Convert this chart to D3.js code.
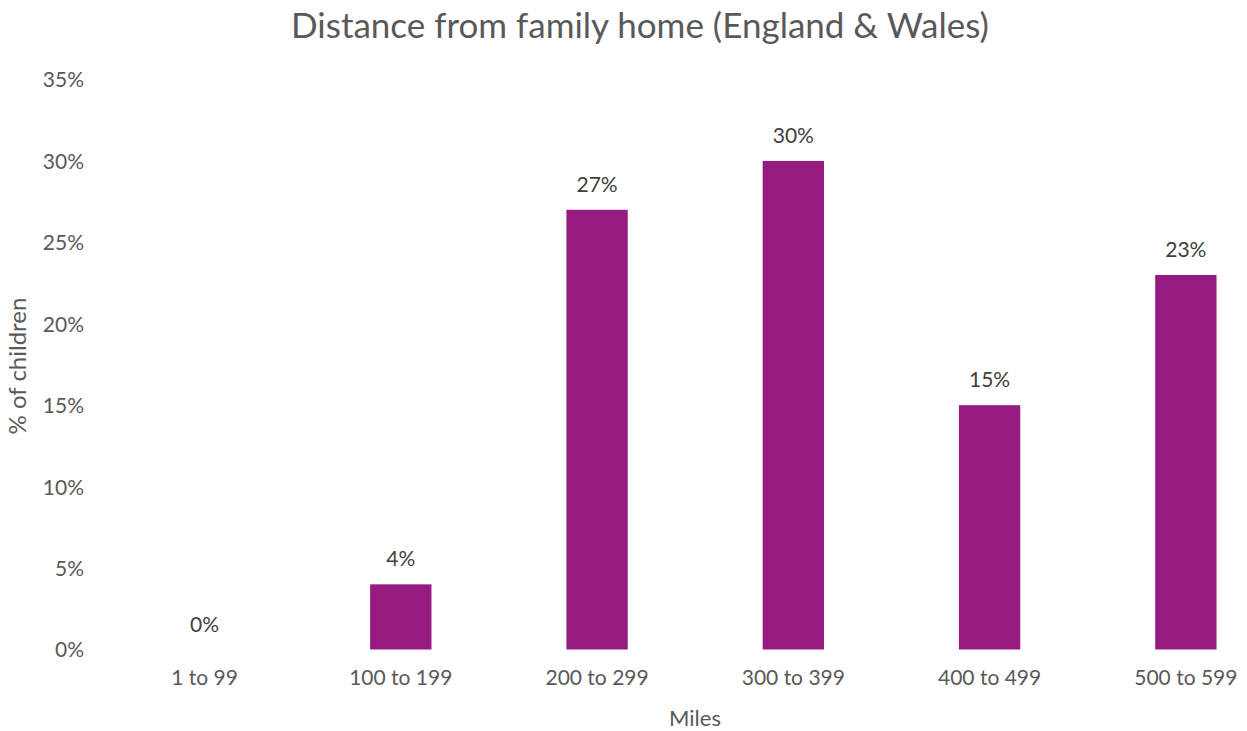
<!DOCTYPE html>
<html><head><meta charset="utf-8">
<script src="https://cdn.jsdelivr.net/npm/d3@7"></script>
<style>body{margin:0;background:#fff}svg{display:block}</style>
</head><body>
<svg id="c" width="1247" height="731"></svg>
<script>
const categories = ["1 to 99","100 to 199","200 to 299","300 to 399","400 to 499","500 to 599"];
const values = [0, 4, 27, 30, 15, 23];
const yTicks = [0, 5, 10, 15, 20, 25, 30, 35];
const title = "Distance from family home (England & Wales)";
const xTitle = "Miles";
const yTitle = "% of children";

const svg = d3.select("#c");
const font = "Lato, 'Open Sans', sans-serif";
const x = d3.scaleBand().domain(categories).range([106.4, 1284]).paddingInner(0.6875).paddingOuter(0.34375);
const y = d3.scaleLinear().domain([0, 35]).range([649.5, 79.5]);

svg.append("text").attr("x", 640).attr("y", 38).attr("text-anchor", "middle")
  .attr("font-family", font).attr("font-size", 35).attr("fill", "#595959").text(title);

const yAxis = svg.append("g").attr("transform", "translate(84,0)")
  .call(d3.axisLeft(y).tickValues(yTicks).tickFormat(d => d + "%").tickSize(0).tickPadding(0));
yAxis.select(".domain").remove();
yAxis.selectAll("text").attr("font-family", font).attr("font-size", 21).attr("fill", "#595959").attr("dy", "0.35em");

const xAxis = svg.append("g").attr("transform", "translate(0,649.5)")
  .call(d3.axisBottom(x).tickSize(0).tickPadding(21));
xAxis.select(".domain").remove();
xAxis.selectAll("text").attr("font-family", font).attr("font-size", 21).attr("fill", "#595959");

svg.append("g").selectAll("rect").data(values).join("rect")
  .attr("x", (d, i) => x(categories[i])).attr("width", x.bandwidth())
  .attr("y", d => y(d)).attr("height", d => y(0) - y(d)).attr("fill", "#961B80");

svg.append("g").selectAll("text").data(values).join("text")
  .attr("x", (d, i) => x(categories[i]) + x.bandwidth() / 2).attr("y", d => y(d) - 18)
  .attr("text-anchor", "middle").attr("font-family", font).attr("font-size", 21).attr("fill", "#404040")
  .text(d => d + "%");

svg.append("text").attr("x", 695).attr("y", 726).attr("text-anchor", "middle")
  .attr("font-family", font).attr("font-size", 22).attr("fill", "#595959").text(xTitle);
svg.append("text").attr("transform", "translate(26,366) rotate(-90)").attr("text-anchor", "middle")
  .attr("font-family", font).attr("font-size", 24).attr("fill", "#595959").text(yTitle);
</script>
</body></html>
